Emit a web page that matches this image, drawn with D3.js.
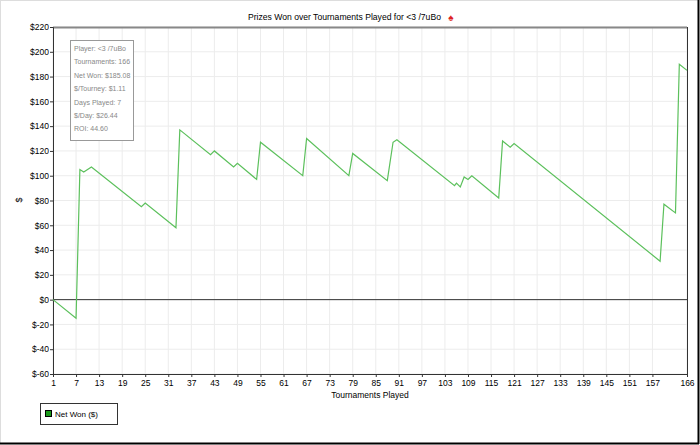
<!DOCTYPE html>
<html><head><meta charset="utf-8">
<script src="https://cdn.jsdelivr.net/npm/d3@7"></script>
<style>body{margin:0;background:#fff}svg{display:block;font-family:"Liberation Sans",Arial,sans-serif}</style>
</head><body><svg id="c" width="700" height="445"></svg>
<script>
const tourney = [1,7,8,9,11,24,25,33,34,42,43,48,49,54,55,66,67,78,79,88,89.5,90.5,105.5,106,107,108,109,110,117,118,120,121,159,160,163,164,166];
const netWon  = [0,-15,105,103,107,75,78,58,137,117,120,107,110,97,127,100,130,100,118,96,127,129,92,94,91,99,97,100,82,128,123,126,31,77,70,190,185];
const xTicks = [1,7,13,19,25,31,37,43,49,55,61,67,73,79,85,91,97,103,109,115,121,127,133,139,145,151,157,166];
const yTicks = [-60,-40,-20,0,20,40,60,80,100,120,140,160,180,200,220];
const stats = ["Player: <3 /7uBo","Tournaments: 166","Net Won: $185.08","$/Tourney: $1.11","Days Played: 7","$/Day: $26.44","ROI: 44.60"];

const svg = d3.select("#c");
const x = d3.scaleLinear().domain([1,166]).range([53,687]);
const y = d3.scaleLinear().domain([-60,220]).range([374,27]);

svg.append("rect").attr("x",0.5).attr("y",0.5).attr("width",698).attr("height",443).attr("fill","none").attr("stroke","#ddd");
svg.append("line").attr("x1",0).attr("x2",699).attr("y1",443.5).attr("y2",443.5).attr("stroke","#000").attr("stroke-width",2);
svg.append("line").attr("x1",698.5).attr("x2",698.5).attr("y1",0).attr("y2",444).attr("stroke","#000").attr("stroke-width",2);

svg.append("g").selectAll("line").data(xTicks).join("line")
  .attr("x1",d=>x(d)).attr("x2",d=>x(d)).attr("y1",27).attr("y2",374).attr("stroke","#ececec");
svg.append("g").selectAll("line").data(yTicks).join("line")
  .attr("x1",53).attr("x2",687).attr("y1",d=>y(d)).attr("y2",d=>y(d)).attr("stroke","#ececec");

svg.append("line").attr("x1",53).attr("x2",687).attr("y1",27.5).attr("y2",27.5).attr("stroke","#888").attr("stroke-width",2);
svg.append("line").attr("x1",687.5).attr("x2",687.5).attr("y1",27).attr("y2",374).attr("stroke","#333");
svg.append("line").attr("x1",53).attr("x2",687).attr("y1",y(0)).attr("y2",y(0)).attr("stroke","#333");

const ya = svg.append("g").attr("transform","translate(53,0)")
  .call(d3.axisLeft(y).tickValues(yTicks).tickSize(3).tickFormat(d=>d<0?"$-"+(-d):"$"+d));
const xa = svg.append("g").attr("transform","translate(0,374)")
  .call(d3.axisBottom(x).tickValues(xTicks).tickSize(3));
[ya,xa].forEach(a=>{a.select(".domain").attr("stroke","#333");a.selectAll("line").attr("stroke","#333");
  a.selectAll("text").attr("font-size",8.5).attr("fill","#000").attr("font-family","'Liberation Sans',Arial,sans-serif");});
ya.selectAll("text").attr("x",-4);
xa.selectAll("text").attr("y",6);

svg.append("rect").attr("x",70.5).attr("y",40.5).attr("width",63).attr("height",100).attr("fill","#fff").attr("stroke","#999");
svg.append("g").selectAll("text").data(stats).join("text")
  .attr("x",74).attr("y",(d,i)=>51+i*13.4).attr("font-size",7).attr("fill","#888").text(d=>d);

svg.append("path").datum(tourney.map((t,i)=>[t,netWon[i]]))
  .attr("d",d3.line().x(d=>x(d[0])).y(d=>y(d[1])))
  .attr("fill","none").attr("stroke","#5cc05c").attr("stroke-width",1.2);

const title = svg.append("text").attr("x",248).attr("y",20).attr("font-size",8.6).text("Prizes Won over Tournaments Played for <3 /7uBo");
const tEnd = 248 + title.node().getComputedTextLength();
svg.append("text").attr("x",tEnd+10).attr("y",21).attr("text-anchor","middle").attr("font-size",10).attr("fill","#d22").text("♠");
svg.append("text").attr("x",370).attr("y",398).attr("text-anchor","middle").attr("font-size",8.5).text("Tournaments Played");
svg.append("text").attr("transform","translate(22,200) rotate(-90)").attr("text-anchor","middle").attr("font-size",9).text("$");

svg.append("rect").attr("x",40.5).attr("y",403.5).attr("width",77).attr("height",21).attr("fill","#fff").attr("stroke","#333");
svg.append("rect").attr("x",45.5).attr("y",410.5).attr("width",6).attr("height",6).attr("fill","#1a9a1a").attr("stroke","#000");
svg.append("text").attr("x",55).attr("y",417).attr("font-size",8).text("Net Won ($)");
</script></body></html>
